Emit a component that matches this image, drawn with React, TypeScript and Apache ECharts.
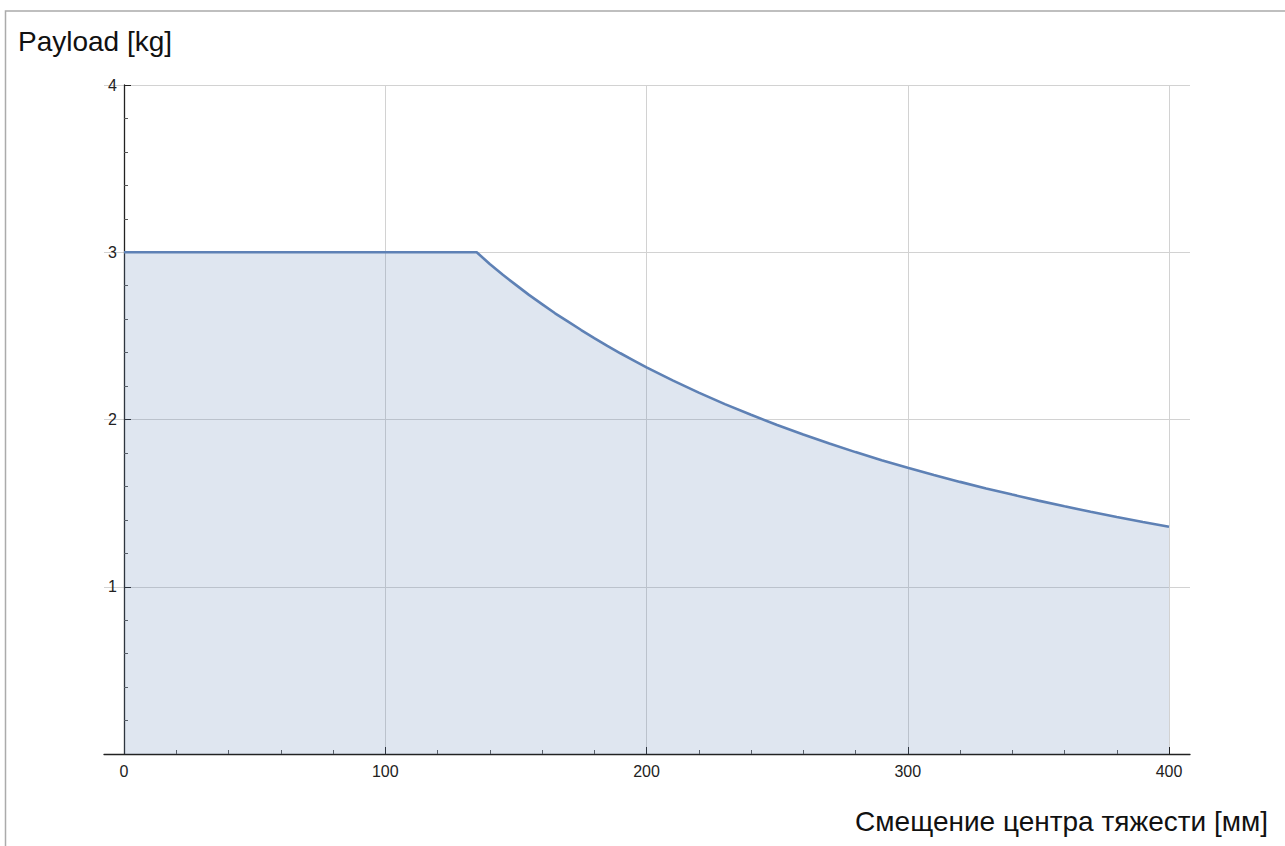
import React, { useEffect, useRef } from "react";
import * as echarts from "echarts";

const offsetMm = [
  0, 135, 140, 145, 150, 155, 160, 165, 170, 175, 180, 185, 190, 195, 200,
  210, 220, 230, 240, 250, 260, 270, 280, 290, 300, 310, 320, 330, 340, 350,
  360, 370, 380, 390, 400,
];
const payloadKg = [
  3.0, 3.0, 2.93, 2.865, 2.805, 2.745, 2.69, 2.635, 2.585, 2.535, 2.487, 2.44, 2.396, 2.354, 2.312,
  2.234, 2.161, 2.092, 2.028, 1.967, 1.91, 1.856, 1.805, 1.757, 1.712, 1.668, 1.627, 1.588, 1.551, 1.515,
  1.481, 1.448, 1.417, 1.387, 1.359,
];
const yTitle = "Payload [kg]";
const xTitle = "Смещение центра тяжести [мм]";

const FONT = "Liberation Sans";
const LINE = "#5e81b5";
const GRID = "#d2d2d2";
const AXIS = "#222222";

export default function App() {
  const ref = useRef<HTMLDivElement>(null);
  useEffect(() => {
    if (!ref.current) return;
    const chart = echarts.init(ref.current, undefined, { renderer: "svg" });
    const points = offsetMm.map((x, i) => [x, payloadKg[i]]);
    chart.setOption({
      animation: false,
      backgroundColor: "#ffffff",
      textStyle: { fontFamily: FONT },
      grid: [
        { left: 104, right: 95, top: 85, bottom: 92 },
        { left: 124, right: 116, top: 85, bottom: 92 },
      ],
      xAxis: [
        {
          type: "value", gridIndex: 0, min: 0, max: 1,
          axisLine: { show: true, lineStyle: { color: AXIS, width: 1.3 } },
          axisTick: { show: false }, axisLabel: { show: false }, splitLine: { show: false },
        },
        {
          type: "value", gridIndex: 1, min: 0, max: 400, interval: 100,
          axisLine: { show: false },
          axisTick: { show: true, inside: true, length: 7, lineStyle: { color: AXIS, width: 1 } },
          minorTick: { show: true, splitNumber: 5, length: 4, lineStyle: { color: "#555555", width: 1 } },
          axisLabel: { show: true, margin: 9, fontSize: 16, color: AXIS, fontFamily: FONT },
          splitLine: { show: true, lineStyle: { color: GRID, width: 1 } },
        },
      ],
      yAxis: [
        {
          type: "value", gridIndex: 0, min: 0, max: 4, interval: 1,
          axisLine: { show: false }, axisTick: { show: false }, axisLabel: { show: false },
          splitLine: { show: true, lineStyle: { color: GRID, width: 1 } },
        },
        {
          type: "value", gridIndex: 1, min: 0, max: 4, interval: 1,
          axisLine: { show: true, lineStyle: { color: AXIS, width: 1.3 } },
          axisTick: { show: true, inside: true, length: 7, lineStyle: { color: AXIS, width: 1 } },
          minorTick: { show: true, splitNumber: 5, length: 4, lineStyle: { color: "#555555", width: 1 } },
          axisLabel: {
            show: true, margin: 7, fontSize: 16, color: AXIS, fontFamily: FONT,
            formatter: (v: number) => (v === 0 ? "" : String(v)),
          },
          splitLine: { show: false },
        },
      ],
      series: [
        {
          type: "line",
          xAxisIndex: 1,
          yAxisIndex: 1,
          data: points,
          showSymbol: false,
          symbol: "none",
          lineStyle: { color: LINE, width: 2.6 },
          areaStyle: { color: LINE, opacity: 0.2 },
          z: 3,
        },
      ],
      graphic: [
        {
          type: "rect",
          shape: { x: 5.5, y: 11, width: 1400, height: 1000 },
          style: { fill: "none", stroke: "#ababab", lineWidth: 1.5 },
          silent: true,
        },
        {
          type: "text",
          left: 18,
          top: 27,
          style: { text: yTitle, font: `28px "${FONT}"`, fill: "#111111" },
        },
        {
          type: "text",
          right: 17,
          top: 807,
          style: { text: xTitle, font: `28px "${FONT}"`, fill: "#111111" },
        },
      ],
    });
    return () => chart.dispose();
  }, []);
  return (
    <div
      ref={ref}
      style={{ position: "fixed", left: 0, top: 0, width: 1285, height: 846 }}
    />
  );
}
